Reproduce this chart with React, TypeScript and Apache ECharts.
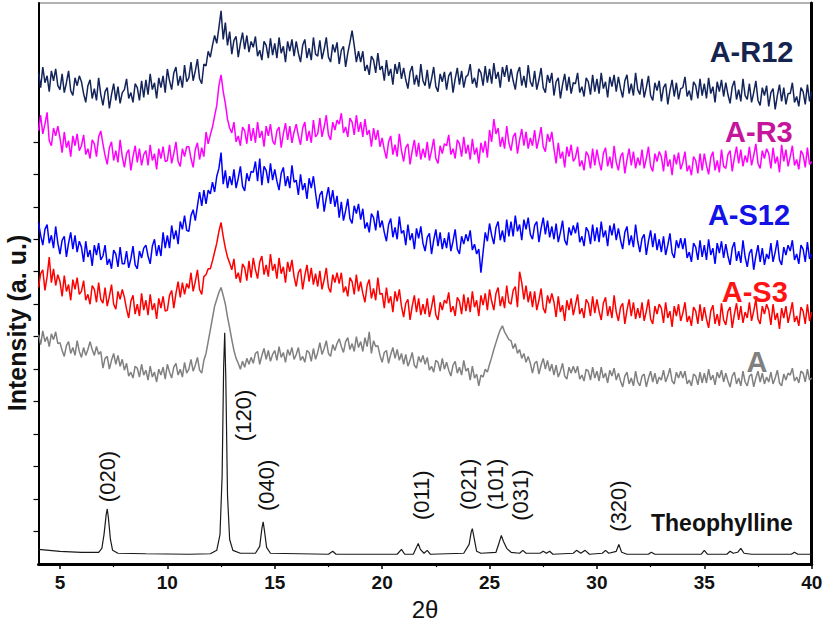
import React, { useEffect, useRef } from "react";
import * as echarts from "echarts";

// Scans are sampled on a uniform 2θ grid
const THETA_START = 4;
const THETA_STEP = 0.1;

const xTickValues = [5, 10, 15, 20, 25, 30, 35, 40];
const xMinorTickValues = [7.5, 12.5, 17.5, 22.5, 27.5, 32.5, 37.5];
const yTickValues = [33, 66, 99, 132, 165, 198, 231, 264, 297, 330, 363, 396, 429];

// Stacked (offset) intensities, arbitrary units; one row per degree
const seriesAR12 = [
  499, 484, 505, 489, 496, 480, 501, 491, 503, 486,
  482, 498, 479, 489, 501, 481, 476, 494, 486, 496,
  490, 478, 469, 486, 492, 473, 483, 471, 494, 477,
  466, 480, 484, 463, 477, 488, 471, 485, 468, 479,
  482, 493, 473, 479, 469, 488, 484, 471, 491, 474,
  492, 477, 498, 482, 489, 473, 494, 484, 496, 479,
  503, 491, 482, 499, 505, 486, 496, 484, 507, 490,
  494, 510, 491, 501, 513, 493, 488, 508, 506, 521,
  515, 527, 537, 529, 545, 562, 533, 550, 527, 541,
  518, 532, 536, 515, 529, 540, 523, 537, 520, 531,
  525, 536, 516, 522, 512, 531, 527, 514, 534, 517,
  529, 514, 535, 519, 526, 510, 531, 521, 533, 516,
  531, 519, 510, 527, 533, 514, 524, 512, 535, 518,
  516, 532, 513, 523, 535, 515, 510, 528, 520, 530,
  508, 522, 526, 505, 519, 530, 542, 527, 510, 521,
  510, 521, 501, 507, 497, 516, 512, 499, 519, 502,
  506, 491, 512, 496, 503, 487, 508, 498, 510, 493,
  504, 492, 483, 500, 506, 487, 497, 485, 508, 491,
  486, 502, 483, 493, 505, 485, 480, 498, 490, 500,
  482, 496, 500, 479, 493, 504, 487, 501, 484, 495,
  497, 508, 488, 494, 484, 503, 499, 486, 506, 489,
  503, 488, 509, 493, 500, 484, 505, 495, 507, 490,
  503, 491, 482, 499, 505, 486, 496, 484, 507, 490,
  485, 501, 482, 492, 504, 484, 479, 497, 489, 499,
  476, 490, 494, 473, 487, 498, 481, 495, 478, 489,
  488, 499, 479, 485, 475, 494, 490, 477, 497, 480,
  493, 478, 499, 483, 490, 474, 495, 485, 497, 480,
  495, 483, 474, 491, 497, 478, 488, 476, 499, 482,
  477, 493, 474, 484, 496, 476, 471, 489, 481, 491,
  470, 484, 488, 467, 481, 492, 475, 489, 472, 483,
  484, 495, 475, 481, 471, 490, 486, 473, 493, 476,
  488, 473, 494, 478, 485, 469, 490, 480, 492, 475,
  489, 477, 468, 485, 491, 472, 482, 470, 493, 476,
  472, 488, 469, 479, 491, 471, 466, 484, 476, 486,
  465, 479, 483, 462, 476, 487, 470, 484, 467, 478,
  478, 489, 469, 475, 465, 484, 480, 467, 487, 470,
  480,
];

const seriesAR3 = [
  440, 456, 437, 447, 459, 430, 425, 443, 435, 445,
  433, 418, 439, 423, 430, 414, 435, 425, 437, 420,
  425, 436, 416, 422, 412, 431, 427, 414, 434, 440,
  427, 415, 406, 423, 429, 410, 420, 408, 431, 414,
  403, 417, 421, 400, 414, 425, 408, 422, 405, 416,
  420, 405, 426, 410, 417, 401, 422, 412, 424, 409,
  410, 426, 407, 417, 429, 409, 404, 422, 414, 424,
  424, 412, 403, 421, 428, 411, 423, 414, 439, 427,
  436, 444, 455, 466, 486, 497, 480, 468, 452, 443,
  438, 449, 429, 435, 425, 444, 440, 427, 447, 430,
  443, 428, 449, 433, 440, 424, 445, 435, 447, 430,
  426, 440, 444, 423, 437, 448, 431, 445, 428, 439,
  447, 435, 426, 443, 449, 430, 440, 428, 451, 434,
  437, 453, 434, 444, 456, 436, 431, 449, 441, 451,
  447, 458, 438, 444, 434, 453, 449, 436, 456, 439,
  449, 434, 452, 436, 441, 424, 443, 431, 441, 424,
  433, 421, 412, 429, 435, 416, 426, 414, 437, 420,
  409, 423, 427, 406, 420, 431, 414, 428, 411, 422,
  413, 429, 410, 420, 432, 412, 407, 425, 417, 427,
  425, 436, 416, 422, 412, 431, 427, 414, 434, 417,
  426, 411, 432, 416, 423, 407, 428, 418, 430, 413,
  441, 429, 452, 437, 443, 424, 434, 422, 445, 428,
  420, 434, 438, 417, 431, 442, 425, 439, 422, 433,
  425, 441, 422, 432, 444, 424, 419, 437, 429, 439,
  422, 407, 428, 412, 419, 403, 424, 414, 426, 409,
  413, 424, 404, 410, 400, 419, 415, 402, 422, 405,
  421, 409, 400, 417, 423, 404, 414, 402, 425, 408,
  400, 414, 418, 397, 411, 422, 405, 419, 402, 413,
  405, 421, 402, 412, 424, 404, 399, 417, 409, 419,
  414, 399, 420, 404, 411, 395, 416, 406, 418, 401,
  408, 419, 399, 405, 395, 414, 410, 397, 417, 400,
  417, 405, 396, 413, 419, 400, 410, 398, 421, 404,
  402, 416, 420, 399, 413, 424, 407, 421, 404, 415,
  408, 424, 405, 415, 427, 407, 402, 420, 412, 422,
  417, 402, 423, 407, 414, 398, 426, 409, 421, 404,
  414, 425, 405, 411, 401, 420, 416, 403, 423, 406,
  409,
];

const seriesAS12 = [
  347, 334, 324, 340, 345, 326, 334, 321, 343, 326,
  315, 329, 333, 312, 326, 337, 320, 334, 317, 328,
  322, 307, 328, 312, 319, 303, 324, 314, 326, 309,
  313, 324, 304, 310, 300, 319, 315, 302, 322, 305,
  305, 318, 301, 310, 323, 304, 300, 318, 311, 321,
  324, 313, 305, 323, 330, 313, 324, 313, 337, 321,
  334, 321, 344, 330, 339, 325, 348, 340, 354, 339,
  338, 354, 360, 349, 364, 378, 364, 380, 366, 380,
  376, 388, 378, 394, 402, 418, 386, 400, 382, 394,
  385, 401, 382, 392, 404, 384, 379, 397, 389, 399,
  398, 409, 389, 412, 385, 404, 400, 387, 407, 390,
  401, 389, 380, 397, 403, 384, 394, 382, 405, 388,
  390, 375, 396, 380, 387, 371, 392, 382, 394, 377,
  361, 375, 379, 358, 372, 383, 366, 380, 363, 374,
  352, 368, 349, 359, 371, 351, 346, 364, 356, 366,
  350, 361, 341, 347, 337, 356, 352, 339, 359, 342,
  349, 337, 328, 345, 351, 332, 342, 330, 353, 336,
  339, 324, 345, 329, 336, 320, 341, 331, 343, 326,
  318, 332, 336, 315, 329, 340, 323, 337, 320, 331,
  321, 337, 318, 328, 340, 320, 315, 333, 325, 335,
  328, 339, 319, 325, 315, 320, 296, 317, 337, 328,
  346, 334, 325, 342, 348, 329, 339, 327, 350, 333,
  348, 333, 354, 338, 345, 329, 350, 340, 352, 335,
  330, 344, 348, 327, 341, 352, 335, 349, 332, 343,
  330, 346, 327, 337, 349, 329, 324, 342, 334, 344,
  336, 347, 327, 333, 323, 342, 338, 325, 345, 328,
  342, 327, 348, 332, 339, 323, 344, 334, 346, 329,
  341, 329, 320, 337, 343, 324, 334, 322, 345, 328,
  317, 331, 335, 314, 328, 339, 322, 336, 319, 330,
  317, 333, 314, 324, 336, 316, 311, 329, 321, 331,
  320, 331, 311, 317, 307, 326, 322, 309, 329, 312,
  324, 309, 330, 314, 321, 305, 326, 316, 328, 311,
  325, 313, 304, 321, 327, 308, 318, 306, 329, 312,
  302, 316, 320, 299, 313, 324, 307, 321, 304, 315,
  310, 326, 307, 317, 329, 309, 304, 322, 314, 324,
  318, 329, 309, 315, 305, 324, 320, 307, 327, 310,
  315,
];

const seriesAS3 = [
  281, 295, 299, 278, 292, 312, 286, 300, 283, 294,
  287, 272, 293, 277, 284, 268, 289, 279, 291, 274,
  277, 288, 268, 274, 264, 283, 279, 266, 286, 269,
  265, 281, 262, 272, 284, 264, 259, 277, 269, 279,
  271, 259, 250, 267, 273, 254, 264, 252, 275, 258,
  268, 253, 274, 258, 265, 249, 270, 260, 272, 257,
  258, 273, 278, 260, 275, 287, 271, 286, 274, 285,
  280, 296, 277, 287, 299, 279, 274, 292, 294, 300,
  300, 308, 317, 326, 338, 347, 333, 321, 312, 306,
  299, 310, 290, 296, 286, 305, 301, 288, 308, 291,
  311, 299, 290, 307, 313, 294, 304, 292, 315, 298,
  305, 290, 311, 295, 302, 286, 307, 297, 309, 292,
  282, 296, 300, 279, 293, 304, 287, 301, 284, 295,
  282, 298, 279, 289, 301, 281, 276, 294, 286, 296,
  285, 296, 276, 282, 272, 291, 287, 274, 294, 277,
  287, 275, 266, 283, 289, 270, 280, 268, 291, 274,
  275, 260, 281, 265, 272, 256, 277, 267, 279, 262,
  251, 265, 269, 248, 262, 273, 256, 270, 253, 264,
  254, 270, 251, 261, 273, 253, 248, 266, 258, 268,
  265, 276, 256, 262, 252, 271, 267, 254, 274, 257,
  271, 256, 277, 261, 268, 252, 273, 263, 275, 258,
  279, 267, 258, 275, 281, 262, 272, 260, 283, 266,
  264, 278, 282, 261, 297, 286, 269, 283, 266, 277,
  261, 277, 258, 268, 280, 260, 255, 273, 265, 275,
  266, 251, 272, 256, 263, 247, 268, 258, 270, 253,
  263, 274, 254, 260, 250, 269, 265, 252, 272, 255,
  269, 257, 248, 265, 271, 252, 262, 250, 273, 256,
  247, 261, 265, 244, 258, 269, 252, 266, 249, 260,
  250, 266, 247, 257, 269, 249, 244, 262, 254, 264,
  260, 245, 266, 250, 257, 241, 262, 252, 264, 247,
  255, 266, 246, 252, 242, 261, 257, 244, 264, 247,
  261, 249, 240, 257, 263, 244, 254, 242, 265, 248,
  243, 257, 261, 240, 254, 265, 248, 262, 245, 256,
  250, 266, 247, 257, 269, 249, 244, 262, 254, 264,
  258, 243, 264, 248, 255, 239, 260, 250, 262, 245,
  255, 266, 246, 252, 242, 261, 257, 244, 264, 247,
  256,
];

const seriesA = [
  233, 223, 237, 226, 231, 221, 234, 228, 236, 224,
  225, 217, 211, 222, 226, 214, 220, 212, 227, 216,
  210, 220, 212, 218, 226, 218, 212, 221, 213, 216,
  199, 209, 211, 198, 207, 214, 203, 212, 201, 208,
  197, 204, 191, 195, 189, 201, 199, 190, 203, 192,
  197, 187, 201, 190, 195, 185, 198, 192, 200, 188,
  203, 195, 189, 200, 204, 192, 198, 190, 205, 194,
  198, 208, 196, 202, 210, 197, 194, 207, 214, 226,
  238, 250, 262, 269, 276, 281, 273, 264, 251, 240,
  228, 217, 209, 204, 198, 206, 200, 209, 203, 210,
  204, 214, 216, 203, 212, 219, 208, 217, 206, 213,
  217, 207, 221, 210, 215, 205, 218, 212, 220, 208,
  213, 220, 207, 211, 205, 217, 215, 206, 219, 208,
  215, 225, 213, 219, 227, 214, 211, 223, 217, 224,
  229, 221, 215, 226, 230, 218, 224, 216, 231, 220,
  226, 216, 230, 221, 236, 214, 227, 221, 222, 212,
  205, 215, 217, 204, 213, 220, 209, 218, 207, 214,
  203, 213, 201, 207, 215, 202, 199, 211, 205, 212,
  203, 210, 197, 201, 195, 207, 205, 196, 209, 198,
  205, 197, 191, 202, 206, 194, 200, 192, 207, 196,
  199, 187, 201, 189, 193, 181, 192, 190, 198, 195,
  203, 210, 218, 225, 232, 238, 242, 236, 232, 228,
  227, 219, 224, 214, 218, 209, 214, 205, 211, 204,
  194, 204, 206, 193, 202, 209, 198, 207, 196, 203,
  192, 202, 190, 196, 204, 191, 188, 200, 194, 201,
  194, 201, 188, 192, 186, 198, 196, 187, 200, 189,
  196, 186, 200, 189, 194, 184, 197, 191, 199, 187,
  194, 186, 180, 191, 195, 183, 189, 181, 196, 185,
  181, 191, 193, 180, 189, 196, 185, 194, 183, 190,
  187, 197, 185, 191, 199, 186, 183, 195, 189, 196,
  189, 196, 183, 187, 181, 193, 191, 182, 195, 184,
  194, 184, 198, 187, 192, 182, 195, 189, 197, 185,
  194, 186, 180, 191, 195, 183, 189, 181, 196, 185,
  181, 191, 193, 180, 189, 196, 185, 194, 183, 190,
  185, 195, 183, 189, 197, 184, 181, 193, 187, 194,
  192, 199, 186, 190, 184, 196, 194, 185, 198, 187,
  189,
];

// Reference pattern of crystalline theophylline: [2θ, intensity]
const theophylline = [
  [4, 15], [5, 13], [6, 12], [6.8, 12], [6.95, 16], [7.05, 30], [7.15, 50], [7.2, 56],
  [7.25, 48], [7.35, 25], [7.45, 14], [7.7, 11], [9, 10.5], [11, 10], [12, 10.5],
  [12.3, 14], [12.45, 30], [12.55, 90], [12.62, 200], [12.67, 235], [12.72, 190],
  [12.8, 70], [12.9, 25], [13.05, 14], [13.4, 11], [14.1, 11], [14.3, 18], [14.4, 36],
  [14.46, 43], [14.52, 34], [14.62, 17], [14.8, 11], [17.5, 10], [17.7, 13], [17.85, 10],
  [20.7, 10], [20.9, 15], [21.05, 10], [21.45, 10], [21.6, 17], [21.68, 21], [21.78, 15],
  [21.95, 11], [22.1, 14], [22.25, 10], [23.8, 11], [24.05, 20], [24.15, 33], [24.2, 36],
  [24.27, 28], [24.4, 13], [24.6, 11], [25.3, 12], [25.45, 22], [25.55, 29], [25.65, 23],
  [25.8, 16], [26.0, 12], [26.4, 11], [26.55, 14], [26.7, 11], [27.35, 11], [27.5, 13],
  [27.65, 11], [27.8, 13], [27.95, 10], [28.9, 11], [29.05, 14], [29.25, 11], [29.45, 14],
  [29.65, 10], [30.25, 11], [30.4, 14], [30.55, 11], [30.9, 13], [31.02, 20], [31.15, 12],
  [31.4, 10], [32.4, 10], [32.53, 12], [32.7, 10], [34.85, 10], [35.0, 14], [35.15, 10],
  [36.05, 10], [36.2, 13], [36.35, 11], [36.55, 12], [36.7, 16], [36.85, 11], [37.2, 10],
  [39.05, 10], [39.2, 12], [39.35, 10], [40, 10],
];

// Miller indices of the main reflections
const hklLabels = [
  { name: "(020)", value: [7.21, 89] },
  { name: "(120)", value: [13.56, 151] },
  { name: "(040)", value: [14.62, 80] },
  { name: "(011)", value: [21.85, 70] },
  { name: "(021)", value: [24.03, 81] },
  { name: "(101)", value: [25.29, 81] },
  { name: "(031)", value: [26.45, 70] },
  { name: "(320)", value: [31.0, 59] },
];

const sampleNames = ["A-R12", "A-R3", "A-S12", "A-S3", "A"];
const sampleColors = ["#13245a", "#ff00ff", "#0000ff", "#ff0000", "#808080"];
const sampleLabelColors = ["#15244f", "#c4169c", "#1212e6", "#ff1414", "#808080"];
const sampleLabelPos = [
  [37.2, 520],
  [37.54, 439],
  [37.08, 355],
  [37.35, 276],
  [37.45, 205],
];
const sampleData = [seriesAR12, seriesAR3, seriesAS12, seriesAS3, seriesA];

const FONT = "'Liberation Sans', Arial, Helvetica, sans-serif";

const toPairs = (vals: number[]) =>
  vals.map((v, i) => [Number((THETA_START + i * THETA_STEP).toFixed(2)), v]);

const textOnlyItem = { color: "transparent", opacity: 1 };

export default function App() {
  const ref = useRef<HTMLDivElement>(null);

  useEffect(() => {
    if (!ref.current) return;
    const chart = echarts.init(ref.current, undefined, { renderer: "svg" });

    const traceSeries = sampleData
      .map((vals, i) => ({
        name: sampleNames[i],
        type: "line",
        data: toPairs(vals),
        symbol: "none",
        lineStyle: { color: sampleColors[i], width: 1.5 },
        z: 3,
      }))
      .reverse();

    const option = {
      animation: false,
      backgroundColor: "#fff",
      grid: {
        left: 38.5,
        right: 25.3,
        top: 3,
        bottom: 53,
        show: true,
        borderColor: "#666",
        borderWidth: 1,
      },
      xAxis: [
        {
          type: "value",
          min: 4,
          max: 40,
          axisLine: { show: true, lineStyle: { color: "#000", width: 3 } },
          axisTick: {
            show: true,
            customValues: xTickValues,
            length: 5,
            lineStyle: { color: "#000", width: 1.5 },
          },
          axisLabel: {
            customValues: xTickValues,
            fontSize: 19,
            fontWeight: "bold",
            color: "#111",
            margin: 9,
            fontFamily: FONT,
          },
          splitLine: { show: false },
          name: "2θ",
          nameLocation: "middle",
          nameGap: 25,
          nameTextStyle: { fontSize: 24, color: "#111", fontFamily: FONT },
        },
        {
          type: "value",
          min: 4,
          max: 40,
          position: "bottom",
          axisLine: { show: false },
          axisTick: {
            show: true,
            customValues: xMinorTickValues,
            length: 3,
            lineStyle: { color: "#000", width: 1.2 },
          },
          axisLabel: { show: false },
          splitLine: { show: false },
        },
      ],
      yAxis: [
        {
          type: "value",
          min: 0,
          max: 570,
          axisLine: { show: true, lineStyle: { color: "#000", width: 2 } },
          axisTick: {
            show: true,
            customValues: yTickValues,
            length: 5,
            lineStyle: { color: "#000", width: 1.2 },
          },
          axisLabel: { show: false },
          splitLine: { show: false },
        },
        {
          type: "value",
          min: 0,
          max: 570,
          position: "right",
          axisLine: { show: true, lineStyle: { color: "#000", width: 3 } },
          axisTick: { show: false },
          axisLabel: { show: false },
          splitLine: { show: false },
        },
      ],
      graphic: [
        {
          type: "text",
          x: 17,
          y: 323,
          rotation: Math.PI / 2,
          style: {
            text: "Intensity (a. u.)",
            align: "center",
            verticalAlign: "middle",
            fontSize: 25,
            fontWeight: "bold",
            fontFamily: FONT,
            fill: "#111",
          },
        },
      ],
      series: [
        {
          name: "Theophylline",
          type: "line",
          data: theophylline,
          symbol: "none",
          lineStyle: { color: "#1a1a1a", width: 1.2 },
          z: 2,
        },
        ...traceSeries,
        {
          name: "hkl",
          type: "scatter",
          data: hklLabels,
          symbolSize: 1,
          itemStyle: textOnlyItem,
          silent: true,
          z: 5,
          label: {
            show: true,
            formatter: "{b}",
            position: "inside",
            rotate: 90,
            align: "center",
            verticalAlign: "middle",
            fontSize: 22,
            color: "#111",
            textBorderWidth: 0,
            fontFamily: FONT,
          },
        },
        {
          name: "sample labels",
          type: "scatter",
          data: [
            ...sampleNames.map((n, i) => ({
              name: n,
              value: sampleLabelPos[i],
              label: { color: sampleLabelColors[i] },
            })),
            {
              name: "Theophylline",
              value: [35.82, 42],
              label: { color: "#111", fontSize: 23 },
            },
          ],
          symbolSize: 1,
          itemStyle: textOnlyItem,
          silent: true,
          z: 5,
          label: {
            show: true,
            formatter: "{b}",
            position: "inside",
            align: "center",
            verticalAlign: "middle",
            fontSize: 29,
            fontWeight: "bold",
            textBorderWidth: 0,
            fontFamily: FONT,
          },
        },
      ],
    };

    chart.setOption(option as any);
    return () => chart.dispose();
  }, []);

  return (
    <div
      ref={ref}
      style={{ position: "absolute", left: 0, top: 0, width: 837, height: 626, background: "#fff" }}
    />
  );
}
